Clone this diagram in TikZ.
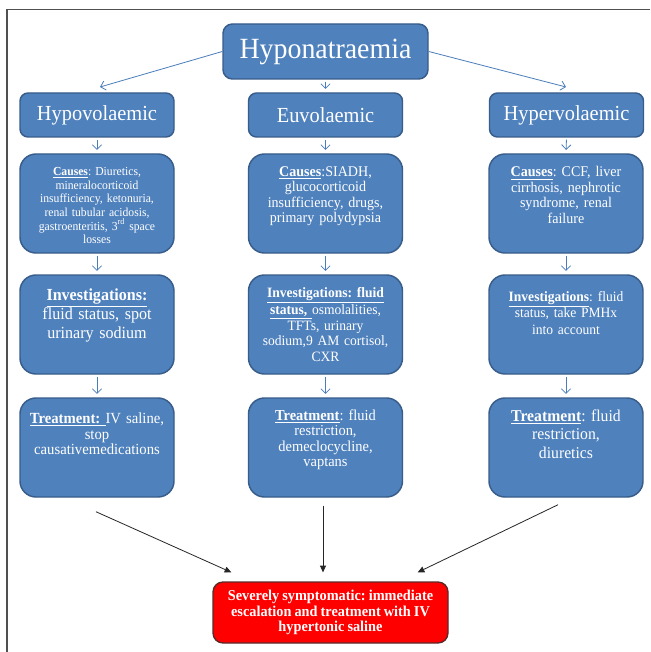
\documentclass[tikz,border=0pt]{standalone}
\usepackage{fontspec}
\setmainfont{Liberation Serif}[FakeStretch=0.95,WordSpace=0.85]
\usetikzlibrary{arrows.meta,calc}
\definecolor{boxblue}{HTML}{4F81BD}
\definecolor{boxedge}{HTML}{385D8A}
\definecolor{arrowblue}{HTML}{4A7EBB}
\definecolor{redfill}{HTML}{FF0000}
\definecolor{rededge}{HTML}{5A2A2A}
\definecolor{framec}{HTML}{505050}
\newcommand{\ul}[1]{\underline{\textbf{#1}}}
\newcommand{\fs}[2]{\fontsize{#1}{#2}\selectfont}
\frenchspacing
\begin{document}
\begin{tikzpicture}[x=0.75pt,y=-0.75pt,
  bluebox/.style={draw=boxedge,fill=boxblue,line width=1.1pt,inner sep=0pt},
  smallbox/.style={bluebox,rounded corners=6pt,minimum width=115.5pt,minimum height=33pt,text=white},
  bigbox/.style={bluebox,rounded corners=12pt,minimum width=115.5pt,minimum height=74.25pt},
  boxtext/.style={text=white,align=center,inner sep=0pt,anchor=north,text width=112pt},
  barrow/.style={draw=arrowblue,line width=0.6pt,-{Straight Barb[length=3.5pt,width=7pt]}},
  vbarrow/.style={barrow,shorten <=1.5pt,shorten >=2.5pt},
  karrow/.style={draw=black!85,line width=0.6pt,-{Triangle[length=5pt,width=4.5pt]}}
]
\useasboundingbox (0,0) rectangle (650,652);
\fill[white] (0,0) rectangle (650,652);
\draw[framec,line width=0.9pt] (650,9.5) -- (7,9.5) -- (7,652);

% top
\node[bluebox,rounded corners=7pt,minimum width=153.75pt,minimum height=41.25pt,text=white,font=\fs{22pt}{24pt}] (top) at (325.5,51.5) {Hyponatraemia};

% second row
\node[smallbox,font=\fs{16.1pt}{18pt}] (hypo) at (97,115) {Hypovolaemic};
\node[smallbox,font=\fs{16.1pt}{18pt}] (eu) at (325.5,115) {Euvolaemic};
\node[smallbox,font=\fs{16.1pt}{18pt}] (hyper) at (566.5,115) {Hypervolaemic};

% causes
\node[bigbox] (cL) at (97,203.5) {};
\node[bigbox] (cM) at (325.5,203.5) {};
\node[bigbox] (cR) at (566,203.5) {};
% investigations
\node[bigbox] (iL) at (97,324.5) {};
\node[bigbox] (iM) at (325.5,324.5) {};
\node[bigbox] (iR) at (566,324.5) {};
% treatment
\node[bigbox] (tL) at (97,447.5) {};
\node[bigbox] (tM) at (325.5,447.5) {};
\node[bigbox] (tR) at (566,447.5) {};

% texts
\node[boxtext,font=\fs{9.2pt}{10.2pt}] (cLt) at ($(cL.north)+(0,14)$)
  {\ul{Causes}: Diuretics,\\ mineralocorticoid\\ insufficiency, ketonuria,\\ renal tubular acidosis,\\ gastroenteritis, 3\textsuperscript{rd} space\\ losses};
\node[boxtext,font=\fs{11.1pt}{11.6pt}] (cMt) at ($(cM.north)+(0,13)$)
  {\ul{Causes}:SIADH,\\ glucocorticoid\\ insufficiency, drugs,\\ primary polydypsia};
\node[boxtext,font=\fs{11.1pt}{11.6pt}] (cRt) at ($(cR.north)+(0,13)$)
  {\ul{Causes}: CCF, liver\\ cirrhosis, nephrotic\\ syndrome, renal\\ failure};

\node[boxtext,font=\fs{12.7pt}{13.6pt}] (iLt) at ($(iL.north)+(0,14)$)
  {\ul{Investigations:}\\ fluid status, spot\\ urinary sodium};
\node[boxtext,font=\fs{10.7pt}{11.7pt}] (iMt) at ($(iM.north)+(0,13)$)
  {\ul{Investigations: fluid}\\ \ul{status, }osmolalities,\\ TFTs, urinary\\ sodium,9 AM cortisol,\\ CXR};
\node[boxtext,font=\fs{10.7pt}{12.2pt}] (iRt) at ($(iR.north)+(0,17)$)
  {\ul{Investigations}: fluid\\ status, take PMHx\\ into account};

\node[boxtext,font=\fs{11.6pt}{11.8pt}] (tLt) at ($(tL.north)+(0,15)$)
  {\ul{Treatment: }IV saline,\\ stop\\ causativemedications};
\node[boxtext,font=\fs{11.4pt}{11.6pt}] (tMt) at ($(tM.north)+(0,12)$)
  {\ul{Treatment}: fluid\\ restriction,\\ demeclocycline,\\ vaptans};
\node[boxtext,font=\fs{12.4pt}{14pt}] (tRt) at ($(tR.north)+(0,12)$)
  {\ul{Treatment}: fluid\\ restriction,\\ diuretics};

% red box
\node[draw=rededge,fill=redfill,line width=1pt,rounded corners=7.5pt,minimum width=176.25pt,minimum height=45.75pt,inner sep=0pt,text=white,align=center,font=\bfseries\fs{11.3pt}{11.4pt}] (red) at (330.5,612.5)
  {Severely symptomatic: immediate\\ escalation and treatment with IV\\ hypertonic saline};

% blue arrows
\coordinate (aL) at (100,87);
\coordinate (aR) at (566,87);
\draw[barrow] (top.west) -- (aL);
\draw[barrow] (top.east) -- (aR);
\draw[vbarrow] (top.south) -- (eu.north);
\draw[vbarrow] (hypo.south) -- (cL.north);
\draw[vbarrow] (eu.south) -- (cM.north);
\draw[vbarrow] (hyper.south) -- (cR.north);
\draw[vbarrow] (cL.south) -- (iL.north);
\draw[vbarrow] (cM.south) -- (iM.north);
\draw[vbarrow] (cR.south) -- (iR.north);
\draw[vbarrow] (iL.south) -- (tL.north);
\draw[vbarrow] (iM.south) -- (tM.north);
\draw[vbarrow] (iR.south) -- (tR.north);

% black arrows
\draw[karrow] ($(tL.south)+(-1,14)$) -- ($(red.north west)+(19,-9)$);
\draw[karrow] ($(tM.south)+(-2.5,8)$) -- ($(red.north)+(-7.5,-9)$);
\draw[karrow] ($(tR.south)+(-8,7)$) -- ($(red.north east)+(-31,-9)$);
\end{tikzpicture}
\end{document}
